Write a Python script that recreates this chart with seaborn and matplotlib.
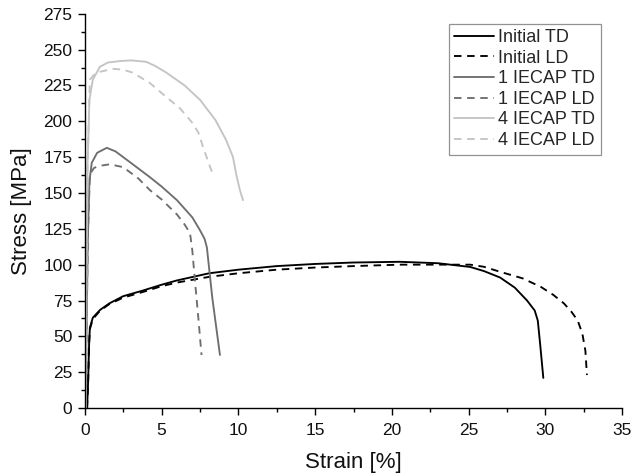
import matplotlib
matplotlib.use("Agg")
import matplotlib.pyplot as plt
from matplotlib.ticker import MultipleLocator
import seaborn as sns
import pandas as pd

# ---- data ----
init_td_x = [0.15, 0.22, 0.28, 0.33, 0.52, 1.0, 1.6, 2.5, 3.8, 5.0, 6.0, 8.1, 10.0, 12.5, 15.0, 17.5, 20.5, 23.0, 25.1, 26.0, 27.05, 28.0, 28.8, 29.3, 29.5, 29.65, 29.86]
init_td_y = [0.0, 20.0, 45.0, 56.0, 63.0, 68.5, 73.0, 78.0, 82.0, 86.0, 89.0, 94.0, 96.5, 99.0, 100.5, 101.5, 102.0, 101.0, 98.4, 95.5, 91.0, 84.0, 75.0, 68.0, 61.0, 45.0, 21.0]

init_ld_x = [0.15, 0.22, 0.28, 0.33, 0.52, 1.0, 1.6, 2.5, 3.8, 5.0, 6.0, 8.1, 10.0, 12.5, 15.0, 17.5, 20.5, 23.0, 25.1, 26.0, 27.05, 28.5, 29.7, 30.5, 31.2, 31.7, 32.1, 32.4, 32.6, 32.7]
init_ld_y = [0.0, 20.0, 45.0, 55.0, 62.0, 68.0, 72.5, 77.0, 81.0, 85.0, 87.5, 91.5, 94.0, 96.5, 98.0, 99.0, 100.0, 100.0, 100.0, 98.5, 95.0, 90.5, 84.5, 79.0, 73.0, 67.0, 61.0, 52.0, 40.0, 23.0]

ecap1_td_x = [0.05, 0.12, 0.2, 0.3, 0.45, 0.8, 1.43, 2.0, 3.0, 4.24, 5.0, 6.0, 7.0, 7.5, 7.8, 7.95, 8.1, 8.3, 8.55, 8.8]
ecap1_td_y = [0.0, 60.0, 120.0, 158.0, 171.0, 178.0, 181.5, 179.0, 171.0, 161.0, 154.5, 145.0, 133.0, 124.0, 118.0, 112.0, 97.0, 77.0, 57.0, 37.0]

ecap1_ld_x = [0.05, 0.12, 0.2, 0.33, 0.6, 1.0, 1.63, 2.5, 3.5, 4.24, 5.0, 6.0, 6.5, 6.85, 7.0, 7.17, 7.4, 7.6]
ecap1_ld_y = [0.0, 60.0, 120.0, 163.0, 167.5, 169.0, 170.0, 168.0, 160.0, 152.0, 145.5, 135.0, 128.0, 122.0, 110.0, 89.0, 62.0, 37.0]

ecap4_td_x = [0.05, 0.1, 0.18, 0.3, 0.52, 0.98, 1.5, 2.28, 3.0, 4.0, 4.6, 5.3, 6.5, 7.5, 8.5, 9.2, 9.65, 9.9, 10.1, 10.3]
ecap4_td_y = [0.0, 80.0, 170.0, 215.0, 229.0, 238.0, 241.0, 242.0, 242.5, 241.5, 238.5, 234.0, 225.0, 215.0, 201.0, 187.0, 175.0, 161.0, 152.0, 145.0]

ecap4_ld_x = [0.05, 0.1, 0.18, 0.33, 0.6, 0.98, 1.83, 2.5, 3.1, 4.2, 5.3, 6.2, 7.0, 7.4, 7.7, 8.0, 8.3]
ecap4_ld_y = [0.0, 80.0, 170.0, 229.0, 232.5, 234.5, 236.6, 236.0, 234.0, 227.0, 217.0, 209.0, 199.0, 192.0, 182.0, 173.0, 164.0]

labels = ["Initial TD", "Initial LD", "1 IECAP TD", "1 IECAP LD", "4 IECAP TD", "4 IECAP LD"]
xs = [init_td_x, init_ld_x, ecap1_td_x, ecap1_ld_x, ecap4_td_x, ecap4_ld_x]
ys = [init_td_y, init_ld_y, ecap1_td_y, ecap1_ld_y, ecap4_td_y, ecap4_ld_y]

x_ticks = [0, 5, 10, 15, 20, 25, 30, 35]
y_ticks = [0, 25, 50, 75, 100, 125, 150, 175, 200, 225, 250, 275]

# ---- styles ----
colors = ["#000000", "#000000", "#6e6e6e", "#6e6e6e", "#c4c4c4", "#c4c4c4"]
styles = ["-", "--", "-", "--", "-", "--"]

sns.set_theme(style="white")
plt.rcParams["font.family"] = ["Liberation Sans", "DejaVu Sans"]

fig = plt.figure(figsize=(6.33, 4.75), dpi=100)
ax = fig.add_axes([0.134, 0.141, 0.849, 0.830])

for lab, x, y, c, ls in zip(labels, xs, ys, colors, styles):
    df = pd.DataFrame({"x": x, "y": y})
    sns.lineplot(data=df, x="x", y="y", ax=ax, color=c, sort=False,
                 estimator=None, label=lab, linewidth=1.35)
    if ls == "--":
        ax.lines[-1].set_dashes((4, 3))

ax.set_xlim(0, 35)
ax.set_ylim(0, 275)
ax.set_xticks(x_ticks)
ax.set_yticks(y_ticks)
ax.xaxis.set_minor_locator(MultipleLocator(2.5))
ax.yaxis.set_minor_locator(MultipleLocator(12.5))
ax.tick_params(axis="both", which="major", direction="out", length=5, width=1.0,
               labelsize=12.5, color="black", labelcolor="#111111", bottom=True, left=True)
ax.tick_params(axis="x", which="major", pad=6)
ax.tick_params(axis="y", which="major", pad=4)
ax.tick_params(axis="both", which="minor", direction="out", length=3, width=1.0,
               color="black", bottom=True, left=True)
for s in ["top", "right"]:
    ax.spines[s].set_visible(False)
for s in ["left", "bottom"]:
    ax.spines[s].set_color("black")
    ax.spines[s].set_linewidth(1.0)

ax.set_xlabel("Strain [%]", fontsize=16, color="#111111", labelpad=10)
ax.set_ylabel("Stress [MPa]", fontsize=16, color="#111111", labelpad=8)

leg = ax.legend(loc="upper right", bbox_to_anchor=(0.96, 0.975), fontsize=13,
                frameon=True, fancybox=False, edgecolor="#777777",
                handlelength=2.2, handletextpad=0.25, labelspacing=0.2,
                borderpad=0.3, borderaxespad=0.0)
leg.get_frame().set_linewidth(0.9)

fig.savefig("out.png", dpi=100)
